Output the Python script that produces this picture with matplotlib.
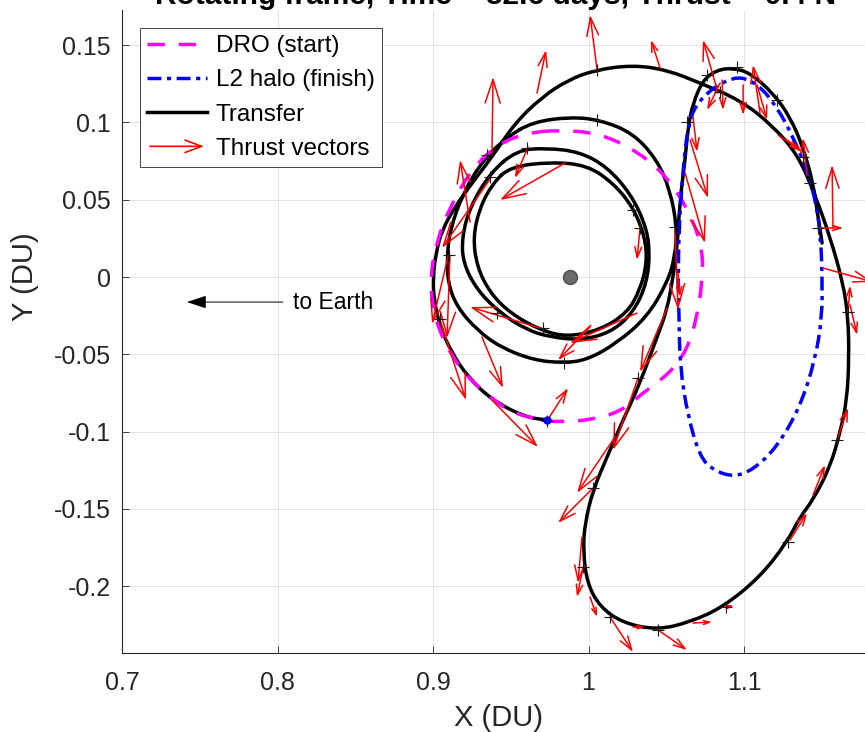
import numpy as np
import matplotlib
matplotlib.use("Agg")
import matplotlib.pyplot as plt
from matplotlib.lines import Line2D
from matplotlib.patches import FancyArrowPatch, PathPatch
from matplotlib.path import Path
from matplotlib.legend_handler import HandlerBase

plt.rcParams['font.family'] = ['Liberation Sans', 'DejaVu Sans']

title_txt = "Rotating frame, Time = 82.6 days, Thrust = 0.4 N"

# DRO (start orbit), DU
dro_x = [0.9797, 1.0074, 1.0331, 1.0505, 1.0653, 1.0736, 1.0730, 1.0698, 1.0633, 1.0524, 1.0350, 1.0203,
         1.0010, 0.9817, 0.9688, 0.9495, 0.9367, 0.9193, 0.9064, 0.9000, 0.8981, 0.9026, 0.9109, 0.9257,
         0.9431, 0.9605, 0.9797]
dro_y = [0.0951, 0.0931, 0.0802, 0.0647, 0.0414, 0.0175, -0.0039, -0.0259, -0.0472, -0.0621, -0.0750, -0.0873,
         -0.0925, -0.0938, -0.0925, -0.0873, -0.0776, -0.0621, -0.0408, -0.0213, 0.0, 0.0239, 0.0453, 0.0712,
         0.0867, 0.0931, 0.0951]

# L2 halo (finish orbit)
halo_x = [1.0929, 1.0698, 1.0633, 1.0601, 1.0582, 1.0576, 1.0582, 1.0588, 1.0640, 1.0717, 1.0801, 1.0929,
          1.1058, 1.1212, 1.1360, 1.1457, 1.1502, 1.1502, 1.1495, 1.1470, 1.1405, 1.1315, 1.1212, 1.1084, 1.0929]
halo_y = [0.1307, 0.1145, 0.0951, 0.0608, 0.0323, -0.0039, -0.0259, -0.0582, -0.0906, -0.1164, -0.1248, -0.1294,
          -0.1248, -0.1100, -0.0841, -0.0537, -0.0259, 0.0, 0.0220, 0.0453, 0.0692, 0.0906, 0.1100, 0.1255, 0.1307]

# transfer: spiral loops around the Moon
loop_a_x = [0.9643, 0.9881, 1.0074, 1.0286, 1.0441, 1.0524, 1.0569, 1.0556, 1.0505, 1.0376, 1.0183, 0.9990,
            0.9836, 0.9643, 0.9431, 0.9283, 0.9154, 0.9096, 0.9090, 0.9109, 0.9193, 0.9322, 0.9476, 0.9643]
loop_a_y = [0.1003, 0.1035, 0.1016, 0.0931, 0.0757, 0.0563, 0.0323, 0.0129, -0.0039, -0.0259, -0.0427, -0.0537,
            -0.0556, -0.0537, -0.0453, -0.0343, -0.0194, -0.0039, 0.0129, 0.0304, 0.0543, 0.0757, 0.0906, 0.1003]
loop_b_x = [0.9540, 0.9733, 0.9945, 1.0119, 1.0267, 1.0363, 1.0395, 1.0376, 1.0286, 1.0138, 0.9945, 0.9752,
            0.9605, 0.9431, 0.9283, 0.9193, 0.9186, 0.9238, 0.9367, 0.9540]
loop_b_y = [0.0821, 0.0834, 0.0809, 0.0712, 0.0543, 0.0349, 0.0175, -0.0039, -0.0233, -0.0362, -0.0408, -0.0388,
            -0.0343, -0.0233, -0.0084, 0.0091, 0.0259, 0.0453, 0.0673, 0.0821]
loop_c_x = [0.9495, 0.9752, 0.9990, 1.0158, 1.0286, 1.0363, 1.0376, 1.0331, 1.0248, 1.0074, 0.9862, 0.9688,
            0.9495, 0.9367, 0.9283, 0.9257, 0.9302, 0.9386, 0.9495]
loop_c_y = [0.0712, 0.0744, 0.0724, 0.0608, 0.0453, 0.0259, 0.0091, -0.0084, -0.0233, -0.0343, -0.0388, -0.0343,
            -0.0233, -0.0103, 0.0065, 0.0259, 0.0453, 0.0608, 0.0712]

# transfer: departure leg out to the halo
leg_x = [0.9733, 0.9592, 0.9379, 0.9225, 0.9122, 0.9045, 0.9006, 0.9000, 0.9019, 0.9058, 0.9141, 0.9251,
         0.9379, 0.9527, 0.9701, 0.9868, 1.0042, 1.0286, 1.0505, 1.0717, 1.0974, 1.1180, 1.1347, 1.1457,
         1.1553, 1.1637, 1.1669, 1.1675, 1.1662, 1.1617, 1.1553, 1.1444, 1.1360, 1.1277, 1.1103, 1.0865,
         1.0653, 1.0441, 1.0222, 1.0074, 0.9990, 0.9965, 0.9977, 1.0029, 1.0119, 1.0222, 1.0331, 1.0441,
         1.0505, 1.0543, 1.0569, 1.0588, 1.0621, 1.0640, 1.0672, 1.0736, 1.0826, 1.0929, 1.1039, 1.1186,
         1.1296, 1.1379, 1.1444, 1.1476, 1.1502]
leg_y = [-0.0925, -0.0906, -0.0796, -0.0647, -0.0492, -0.0323, -0.0149, 0.0, 0.0155, 0.0304, 0.0453, 0.0608,
         0.0776, 0.0996, 0.1164, 0.1274, 0.1339, 0.1371, 0.1339, 0.1255, 0.1145, 0.0983, 0.0789, 0.0530,
         0.0259, -0.0039, -0.0259, -0.0517, -0.0796, -0.1009, -0.1229, -0.1442, -0.1552, -0.1714, -0.1940, -0.2135,
         -0.2232, -0.2283, -0.2238, -0.2135, -0.1979, -0.1766, -0.1591, -0.1378, -0.1164, -0.0925, -0.0686, -0.0388,
         -0.0213, 0.0, 0.0175, 0.0498, 0.0757, 0.0970, 0.1125, 0.1274, 0.1339, 0.1352, 0.1320, 0.1190,
         0.1035, 0.0841, 0.0608, 0.0388, 0.0220]

# segment nodes (+ marks)
node_x = [1.0055, 1.0055, 0.9347, 0.9605, 0.9367, 0.9103, 0.9045, 0.9412, 0.9707, 0.9842, 0.9733, 1.0286,
          1.0331, 1.0556, 1.0633, 1.0762, 1.0955, 1.0846, 1.1212, 1.1379, 1.1424, 1.1476, 1.1669, 1.1598,
          1.0318, 1.0029, 0.9965, 1.0138, 1.0447, 1.0881, 1.1283]
node_y = [0.1339, 0.1016, 0.0789, 0.0834, 0.0647, 0.0142, -0.0272, -0.0233, -0.0330, -0.0556, -0.0931, 0.0433,
          0.0317, 0.0323, 0.1003, 0.1307, 0.1358, 0.1197, 0.1145, 0.0776, 0.0608, 0.0317, -0.0226, -0.1054,
          -0.0653, -0.1365, -0.1876, -0.2199, -0.2283, -0.2135, -0.1714]

# thrust vectors: base point and (u, v) in DU
thr_x = [0.9379, 0.9669, 0.9611, 0.9849, 0.9367, 0.9238, 0.9096, 0.9109, 0.9045, 0.9315, 0.9707, 0.9379,
         0.9733, 1.0010, 1.0312, 1.0331, 1.0556, 1.0505, 1.0318, 1.0170, 1.0029, 0.9958, 0.9965, 1.0010,
         1.0138, 1.0286, 1.0447, 1.0672, 1.0878, 1.1296, 1.1444, 1.1598, 1.1669, 1.1682, 1.1508, 1.1476,
         1.1572, 1.1405, 1.1277, 1.0055, 1.0460, 1.0833, 1.0846, 1.0859, 1.0994, 1.1103, 1.1084, 1.1219,
         1.0672, 1.0653, 1.0621, 1.0576]
thr_y = [0.0802, 0.1190, 0.0841, 0.0737, 0.0634, 0.0356, 0.0129, 0.0142, -0.0278, -0.0388, -0.0336, -0.0796,
         -0.0931, -0.0323, -0.0233, 0.0317, 0.0310, -0.0201, -0.0653, -0.1035, -0.1365, -0.1682, -0.1876, -0.2070,
         -0.2199, -0.2264, -0.2283, -0.2238, -0.2135, -0.1701, -0.1410, -0.1054, -0.0226, -0.0181, 0.0058, 0.0317,
         0.0317, 0.0660, 0.0886, 0.1339, 0.1352, 0.1190, 0.1255, 0.1274, 0.1242, 0.1061, 0.1242, 0.0918,
         0.1035, 0.0886, 0.0673, 0.0026]
thr_u = [0.0007, 0.0058, -0.0084, -0.0418, -0.0309, -0.0064, -0.0102, -0.0019, 0.0167, 0.0135, -0.0469, 0.0296,
         0.0135, -0.0206, -0.0431, -0.0019, 0.0020, -0.0174, -0.0160, -0.0244, -0.0225, -0.0026, -0.0039, 0.0045,
         0.0148, 0.0077, 0.0186, 0.0122, 0.0058, 0.0109, 0.0077, 0.0071, 0.0013, 0.0045, 0.0320, 0.0161,
         -0.0006, -0.0026, 0.0096, -0.0045, -0.0058, -0.0097, -0.0084, 0.0006, 0.0, -0.0045, 0.0064, 0.0141,
         0.0026, 0.0115, 0.0128, 0.0012]
thr_v = [0.0492, 0.0278, -0.0201, -0.0239, -0.0446, 0.0401, -0.0433, -0.0537, -0.0518, -0.0330, 0.0142, -0.0304,
         0.0213, -0.0214, -0.0194, -0.0207, -0.0523, -0.0413, -0.0466, -0.0362, -0.0226, -0.0297, -0.0194, -0.0129,
         -0.0227, 0.0, -0.0130, 0.0006, 0.0007, 0.0174, 0.0194, 0.0207, 0.0170, -0.0194, -0.0090, 0.0,
         0.0407, 0.0239, -0.0077, 0.0356, 0.0181, 0.0343, -0.0175, -0.0194, -0.0194, 0.0310, -0.0226, -0.0097,
         -0.0226, -0.0375, -0.0453, -0.0155]

moon_x, moon_y = 0.98785, 0.0
start_x, start_y = 0.9733, -0.0925
earth_arrow_from, earth_arrow_to, earth_y = 0.8035, 0.7418, -0.0162

xticks = [0.7, 0.8, 0.9, 1.0, 1.1]
xtick_labels = ['0.7', '0.8', '0.9', '1', '1.1']
yticks = [-0.2, -0.15, -0.1, -0.05, 0.0, 0.05, 0.1, 0.15]
ytick_labels = ['-0.2', '-0.15', '-0.1', '-0.05', '0', '0.05', '0.1', '0.15']


def smooth_path(xs, ys, closed):
    # quadratic bezier through the midpoints, read points act as control points
    P = np.column_stack([xs, ys])
    if closed:
        P = P[:-1]
        M = (P + np.roll(P, -1, axis=0)) / 2
        verts, codes = [M[-1]], [Path.MOVETO]
        for i in range(len(P)):
            verts += [P[i], M[i]]
            codes += [Path.CURVE3, Path.CURVE3]
    else:
        M = (P[:-1] + P[1:]) / 2
        verts, codes = [P[0], M[0]], [Path.MOVETO, Path.LINETO]
        for i in range(1, len(P) - 1):
            verts += [P[i], M[i]]
            codes += [Path.CURVE3, Path.CURVE3]
        verts.append(P[-1])
        codes.append(Path.LINETO)
    return Path(verts, codes)


class ArrowHandler(HandlerBase):
    def create_artists(self, legend, orig_handle, xdescent, ydescent, width, height, fontsize, trans):
        yc = height / 2 - ydescent
        a = FancyArrowPatch((-xdescent, yc), (width - xdescent, yc),
                            arrowstyle='->,head_length=12,head_width=4.5', mutation_scale=1,
                            color='red', lw=1.2, transform=trans)
        return [a]


fig = plt.figure(figsize=(8.65, 7.32), dpi=100)
ax = fig.add_axes([122 / 865, 79 / 732, 748 / 865, 643 / 732])
ax.set_xlim(0.7, 1.181)
ax.set_ylim(-0.2432, 0.1727)

gray = (0.15, 0.15, 0.15)
lw = 2.5
dro_ls = (0, (5, 4))
halo_ls = (0, (4, 1.6, 1.2, 1.6))

for xs, ys, closed in [(loop_c_x, loop_c_y, True), (loop_b_x, loop_b_y, True),
                       (loop_a_x, loop_a_y, True), (leg_x, leg_y, False)]:
    ax.add_patch(PathPatch(smooth_path(xs, ys, closed), fill=False, ec='k', lw=lw,
                           capstyle='round', joinstyle='round', zorder=2))
ax.add_patch(PathPatch(smooth_path(dro_x, dro_y, True), fill=False, ec='magenta', lw=lw,
                       ls=dro_ls, zorder=3))
ax.add_patch(PathPatch(smooth_path(halo_x, halo_y, True), fill=False, ec='blue', lw=lw,
                       ls=halo_ls, zorder=3))

# thrust arrows, head scaled with length like quiver
for x0, y0, u, v in zip(thr_x, thr_y, thr_u, thr_v):
    p0 = ax.transData.transform((x0, y0))
    p1 = ax.transData.transform((x0 + u, y0 + v))
    L = np.hypot(*(p1 - p0)) * 72 / fig.dpi
    hl = min(max(0.33 * L, 4.0), 17.0)
    ar = FancyArrowPatch((x0, y0), (x0 + u, y0 + v),
                         arrowstyle='->,head_length=%.2f,head_width=%.2f' % (hl, 0.32 * hl),
                         mutation_scale=1, color='red', lw=1.1, shrinkA=0, shrinkB=0, zorder=4)
    ax.add_patch(ar)

ax.plot(node_x, node_y, '+', color=(0.1, 0.1, 0.1), ms=8, mew=0.8, zorder=5)
ax.plot(moon_x, moon_y, 'o', ms=10, mfc=(0.42, 0.42, 0.42), mec=(0.3, 0.3, 0.3), zorder=5)
ax.plot(start_x, start_y, 'o', ms=5, mfc='blue', mec='blue', zorder=5)

ax.annotate('', xy=(earth_arrow_to, earth_y), xytext=(earth_arrow_from, earth_y),
            arrowprops=dict(arrowstyle='-|>,head_length=0.6,head_width=0.2', color='k', lw=0.7,
                            mutation_scale=20, shrinkA=0, shrinkB=0))
ax.text(0.810, earth_y, 'to Earth', fontsize=16.5, va='center', ha='left')

ax.set_xticks(xticks)
ax.set_xticklabels(xtick_labels)
ax.set_yticks(yticks)
ax.set_yticklabels(ytick_labels)
ax.tick_params(direction='in', length=5, width=0.6, colors=gray, labelsize=18)
ax.tick_params(axis='x', pad=13)
ax.tick_params(axis='y', pad=8)
ax.grid(True, color=(0.87, 0.87, 0.87), lw=0.6)
ax.set_axisbelow(True)
for s in ['top', 'right']:
    ax.spines[s].set_visible(False)
for s in ['left', 'bottom']:
    ax.spines[s].set_color(gray)
    ax.spines[s].set_linewidth(0.8)

ax.set_xlabel('X (DU)', fontsize=21, color=gray)
ax.set_ylabel('Y (DU)', fontsize=21, color=gray)
ax.xaxis.set_label_coords(0.503, -0.080)
ax.yaxis.set_label_coords(-0.111, 0.585)

# legend proxies
h_dro = Line2D([], [], color='magenta', lw=lw, ls=dro_ls)
h_halo = Line2D([], [], color='blue', lw=lw, ls=halo_ls)
h_tr = Line2D([], [], color='k', lw=lw)
proxy = Line2D([], [], color='red')
leg = ax.legend([h_dro, h_halo, h_tr, proxy],
                ['DRO (start)', 'L2 halo (finish)', 'Transfer', 'Thrust vectors'],
                handler_map={proxy: ArrowHandler()},
                loc='upper left', bbox_to_anchor=(0.024, 0.972), borderaxespad=0,
                fontsize=17.5, handlelength=2.45, handletextpad=0.37, labelspacing=0.5,
                fancybox=False, framealpha=1, edgecolor=gray, borderpad=0.3)
leg.get_frame().set_linewidth(0.6)

fig.text(0.573, 1 - 4 / 732, title_txt, ha='center', va='baseline', fontsize=21.5, fontweight='bold')

fig.savefig('out.png', dpi=100)
